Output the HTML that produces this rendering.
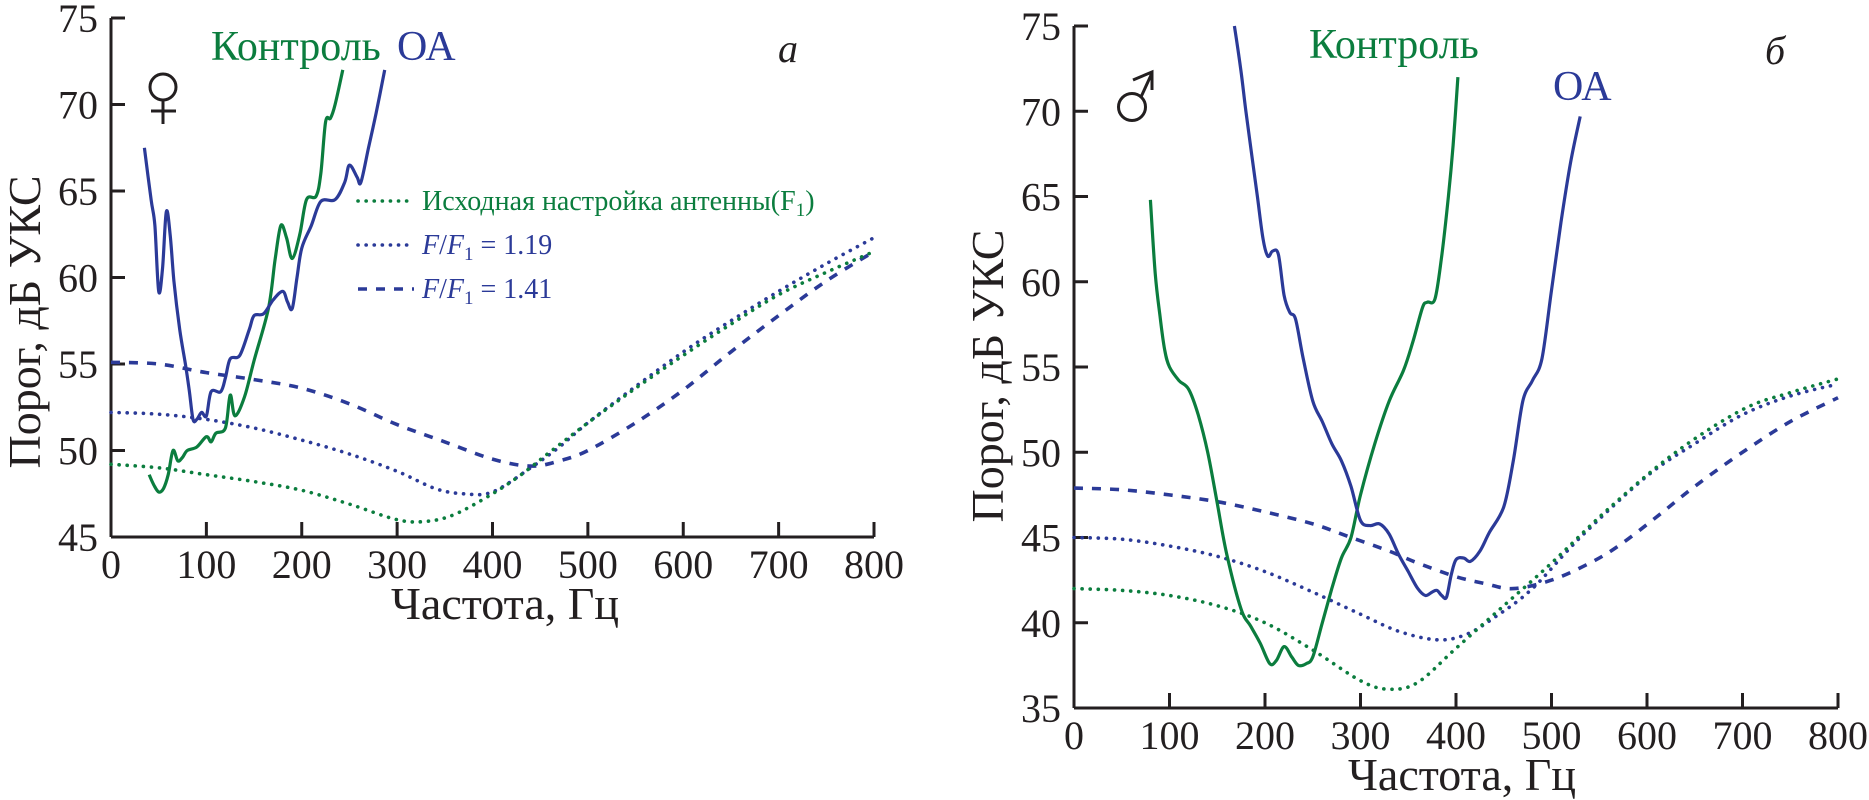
<!DOCTYPE html>
<html><head><meta charset="utf-8">
<style>
html,body{margin:0;padding:0;background:#fff;}
svg{display:block;}
svg text{font-family:"Liberation Serif","DejaVu Serif",serif !important;}
</style></head>
<body>
<svg id="chart" width="1869" height="800" viewBox="0 0 1869 800" xmlns="http://www.w3.org/2000/svg" font-family="'Liberation Serif', 'DejaVu Serif', serif">
</svg>
<script>
// ---------- data: left panel (female) ----------
const leftF1X = [0,50,100,150,200,250,300,330,360,400,430,460,500,550,600,650,700,750,800];
const leftF1Y = [49.2,49.0,48.6,48.2,47.7,46.9,46.0,45.9,46.3,47.5,48.6,49.9,51.6,53.6,55.5,57.3,59.0,60.3,61.5];
const left119X = [0,50,100,150,200,250,300,340,370,400,440,470,500,550,600,650,700,750,800];
const left119Y = [52.2,52.1,51.8,51.3,50.6,49.8,48.8,47.8,47.5,47.6,49.0,50.2,51.6,53.7,55.7,57.5,59.2,60.8,62.3];
const left141X = [0,50,100,150,200,250,300,350,400,440,470,500,550,600,650,700,750,800];
const left141Y = [55.1,55.0,54.5,54.1,53.6,52.7,51.5,50.5,49.5,49.1,49.4,50.0,51.6,53.5,55.7,57.8,59.8,61.5];
const leftCtrlX = [40,45,50,55,60,65,70,75,80,90,100,105,110,120,125,130,140,150,165,172,178,184,190,198,205,215,220,225,230,235,243];
const leftCtrlY = [48.6,48.0,47.6,47.8,48.6,50.0,49.4,49.6,50.0,50.2,50.8,50.5,51.0,51.3,53.2,52.0,53.1,55.2,58.2,61.0,63.0,62.3,61.1,62.5,64.5,64.7,66.0,69.0,69.2,70.0,72.0];
const leftOaX = [35,42,46,50,54,58,62,66,72,78,82,86,90,95,100,105,115,120,125,135,145,150,160,170,180,185,190,195,200,210,220,235,245,250,258,262,270,278,287];
const leftOaY = [67.5,64.5,63.0,59.2,60.5,63.8,62.5,59.8,57.0,55.0,53.5,51.8,51.8,52.2,52.0,53.4,53.4,54.2,55.3,55.5,57.0,57.8,57.9,58.7,59.2,58.6,58.2,60.0,61.7,63.0,64.4,64.5,65.5,66.5,65.8,65.5,67.5,69.5,72.0];

// ---------- data: right panel (male) ----------
const rightF1X = [0,50,100,150,200,250,300,330,360,400,450,500,560,630,700,750,800];
const rightF1Y = [42.0,41.9,41.6,41.0,40.0,38.4,36.6,36.1,36.5,38.5,41.0,43.5,46.7,50.0,52.5,53.5,54.3];
const right119X = [0,50,100,150,200,250,300,340,380,410,440,480,530,600,650,700,750,800];
const right119Y = [45.0,44.9,44.5,43.9,43.0,41.8,40.5,39.5,39.0,39.3,40.3,42.0,45.0,48.6,50.5,52.2,53.3,54.0];
const right141X = [0,50,100,150,200,250,290,330,360,400,430,460,500,540,570,610,650,700,750,800];
const right141Y = [47.9,47.8,47.5,47.1,46.5,45.8,45.0,44.2,43.5,42.7,42.3,42.0,42.5,43.5,44.5,46.2,48.0,50.0,51.8,53.2];
const rightCtrlX = [80,85,90,95,100,110,120,130,140,150,160,175,185,195,205,212,220,228,235,243,250,260,270,280,290,300,315,330,345,355,365,370,378,385,392,397,402];
const rightCtrlY = [64.8,60.5,58.0,56.0,55.0,54.2,53.7,52.2,50.0,47.0,44.0,40.8,39.8,38.8,37.6,37.8,38.6,38.0,37.5,37.6,38.0,40.0,42.0,43.8,45.0,47.5,50.5,53.0,54.8,56.5,58.5,58.8,59.0,61.5,65.0,68.0,72.0];
const rightOaX = [168,175,180,186,192,198,203,208,214,220,226,232,240,250,260,270,280,290,300,310,320,330,340,350,360,368,375,380,385,390,395,400,408,415,425,435,450,460,470,480,490,500,510,520,530];
const rightOaY = [75.0,72.3,70.0,67.5,65.0,62.5,61.5,61.8,61.6,59.2,58.2,57.8,55.5,53.0,51.8,50.5,49.5,48.0,46.0,45.7,45.8,45.2,44.0,43.0,42.0,41.6,41.8,41.9,41.6,41.5,42.8,43.7,43.8,43.6,44.2,45.3,46.8,49.5,53.0,54.2,55.5,59.5,63.5,67.0,69.7];

// ---------- ticks ----------
const xTickLabels = ["0","100","200","300","400","500","600","700","800"];
const xTickValues = [0,100,200,300,400,500,600,700,800];
const leftYTicks = [45,50,55,60,65,70,75];
const rightYTicks = [35,40,45,50,55,60,65,70,75];

const GREEN = "#0b7d3e", BLUE = "#2b3a98", INK = "#231f20";
const FONT = "'Liberation Serif', 'DejaVu Serif', serif";
const svg = document.getElementById("chart");
const NS = "http://www.w3.org/2000/svg";

function mk(tag, attrs, parent) {
  const e = document.createElementNS(NS, tag);
  for (const k in attrs) e.setAttribute(k, attrs[k]);
  if (tag === "text") e.setAttribute("font-family", FONT);
  (parent || svg).appendChild(e);
  return e;
}

const panels = {
  left: {x0:111, x1:874, y0:537, y1:18, ymin:45, ymax:75},
  right:{x0:1074, x1:1838, y0:708, y1:26, ymin:35, ymax:75}
};
function sx(p, v){ return p.x0 + (v/800)*(p.x1-p.x0); }
function sy(p, v){ return p.y0 - (v-p.ymin)/(p.ymax-p.ymin)*(p.y0-p.y1); }

function smoothPath(p, xs, ys) {
  const pts = xs.map((x,i)=>[sx(p,x), sy(p,ys[i])]);
  let d = "M" + pts[0][0].toFixed(1) + "," + pts[0][1].toFixed(1);
  for (let i=0;i<pts.length-1;i++){
    const p0 = pts[i-1]||pts[i], p1=pts[i], p2=pts[i+1], p3=pts[i+2]||p2;
    const c1x = p1[0]+(p2[0]-p0[0])/6, c1y = p1[1]+(p2[1]-p0[1])/6;
    const c2x = p2[0]-(p3[0]-p1[0])/6, c2y = p2[1]-(p3[1]-p1[1])/6;
    d += " C"+c1x.toFixed(1)+","+c1y.toFixed(1)+" "+c2x.toFixed(1)+","+c2y.toFixed(1)+" "+p2[0].toFixed(1)+","+p2[1].toFixed(1);
  }
  return d;
}

function drawAxes(p, yTicks, name, tickFont) {
  const g = mk("g", {});
  
  
  const yl = mk("line", {x1:p.x0, y1:p.y0, x2:p.x0, y2:p.y1, stroke:INK, "stroke-width":3}, g);
  
  
  const xl = mk("line", {x1:p.x0, y1:p.y0, x2:p.x1, y2:p.y0, stroke:INK, "stroke-width":3}, g);
  
  
  yTicks.forEach(v=>{
    const y = sy(p,v);
    if (v !== p.ymin) mk("line", {x1:p.x0, y1:y, x2:p.x0+14, y2:y, stroke:INK, "stroke-width":3}, g);
    const t = mk("text", {x:p.x0-13, y:y+14, "text-anchor":"end", "font-size":40, fill:INK}, g);
    t.textContent = String(v);
    
    
  });
  xTickValues.forEach((v,i)=>{
    const x = sx(p,v);
    if (v !== 0) mk("line", {x1:x, y1:p.y0, x2:x, y2:p.y0-15, stroke:INK, "stroke-width":3}, g);
    const t = mk("text", {x:x, y:p.y0+41, "text-anchor":"middle", "font-size":tickFont, fill:INK}, g);
    t.textContent = xTickLabels[i];
    
    
  });
}

function series(p, xs, ys, color, style, name) {
  const attrs = {d:smoothPath(p,xs,ys), fill:"none", stroke:color, "stroke-linejoin":"round"};
  if (style === "solid") { attrs["stroke-width"] = 3.2; }
  else if (style === "dot") { attrs["stroke-width"] = 3.6; attrs["stroke-dasharray"] = "0.1 8"; attrs["stroke-linecap"] = "round"; }
  else { attrs["stroke-width"] = 3.6; attrs["stroke-dasharray"] = "9 9"; }
  const e = mk("path", attrs);
  
  
}

function label(x, y, txt, size, color, name, extra) {
  const t = mk("text", Object.assign({x:x, y:y, "font-size":size, fill:color}, extra||{}));
  t.textContent = txt;
  
  
  return t;
}

const L = panels.left, R = panels.right;
drawAxes(L, leftYTicks, "left", 40);
drawAxes(R, rightYTicks, "right", 40);

// axis titles
label(40, 322, "Порог, дБ УКС", 46, INK, "left-y-axis-title", {transform:"rotate(-90 40 322)", "text-anchor":"middle"});
label(1003, 376, "Порог, дБ УКС", 46, INK, "right-y-axis-title", {transform:"rotate(-90 1003 376)", "text-anchor":"middle"});
label(505, 619, "Частота, Гц", 46, INK, "left-x-axis-title", {"text-anchor":"middle"});
label(1462, 790, "Частота, Гц", 46, INK, "right-x-axis-title", {"text-anchor":"middle"});

// left series
series(L, left141X, left141Y, BLUE, "dash", "left-f141-curve");
series(L, left119X, left119Y, BLUE, "dot", "left-f119-curve");
series(L, leftF1X, leftF1Y, GREEN, "dot", "left-f1-curve");
series(L, leftCtrlX, leftCtrlY, GREEN, "solid", "left-control-curve");
series(L, leftOaX, leftOaY, BLUE, "solid", "left-oa-curve");

// right series
series(R, right141X, right141Y, BLUE, "dash", "right-f141-curve");
series(R, right119X, right119Y, BLUE, "dot", "right-f119-curve");
series(R, rightF1X, rightF1Y, GREEN, "dot", "right-f1-curve");
series(R, rightCtrlX, rightCtrlY, GREEN, "solid", "right-control-curve");
series(R, rightOaX, rightOaY, BLUE, "solid", "right-oa-curve");

// series labels
label(211, 60, "Контроль", 42, GREEN, "left-control-label");
label(397, 60, "ОА", 42, BLUE, "left-oa-label");
label(1309, 58, "Контроль", 42, GREEN, "right-control-label");
label(1553, 100, "ОА", 42, BLUE, "right-oa-label");
label(778, 62, "а", 40, INK, "left-panel-letter", {"font-style":"italic"});
label(1765, 64, "б", 40, INK, "right-panel-letter", {"font-style":"italic"});

// legend (left panel)
const legY = [201, 245, 289];
const legColors = [GREEN, BLUE, BLUE];
const legStyles = ["dot","dot","dash"];
legY.forEach((y,i)=>{
  const a = {x1:358, y1:y, x2:414, y2:y, stroke:legColors[i], "stroke-width":3.6};
  if (legStyles[i]==="dot"){ a["stroke-dasharray"]="0.1 8"; a["stroke-linecap"]="round"; }
  else a["stroke-dasharray"]="9 9";
  const l = mk("line", a);
  
  
});
const lt1 = label(422, 210, "", 28, GREEN, "legend-entry-f1");
lt1.innerHTML = 'Исходная настройка антенны(F<tspan font-size="19" dy="6">1</tspan><tspan dy="-6">)</tspan>';
const lt2 = label(422, 254, "", 28, BLUE, "legend-entry-f119");
lt2.innerHTML = '<tspan font-style="italic">F</tspan>/<tspan font-style="italic">F</tspan><tspan font-size="19" dy="6">1</tspan><tspan dy="-6"> = 1.19</tspan>';
const lt3 = label(422, 298, "", 28, BLUE, "legend-entry-f141");
lt3.innerHTML = '<tspan font-style="italic">F</tspan>/<tspan font-style="italic">F</tspan><tspan font-size="19" dy="6">1</tspan><tspan dy="-6"> = 1.41</tspan>';

// sex symbols
const fem = mk("g", {stroke:INK, "stroke-width":3, fill:"none"});


mk("circle", {cx:163, cy:87, r:13}, fem);
mk("line", {x1:163, y1:100, x2:163, y2:124}, fem);
mk("line", {x1:151, y1:111, x2:176, y2:111}, fem);

const male = mk("g", {stroke:INK, "stroke-width":3, fill:"none"});


mk("circle", {cx:1132, cy:107, r:13.5}, male);
mk("line", {x1:1141, y1:97, x2:1152, y2:73}, male);
mk("polyline", {points:"1133,80 1152,72 1152,90"}, male);
</script>
</body></html>
